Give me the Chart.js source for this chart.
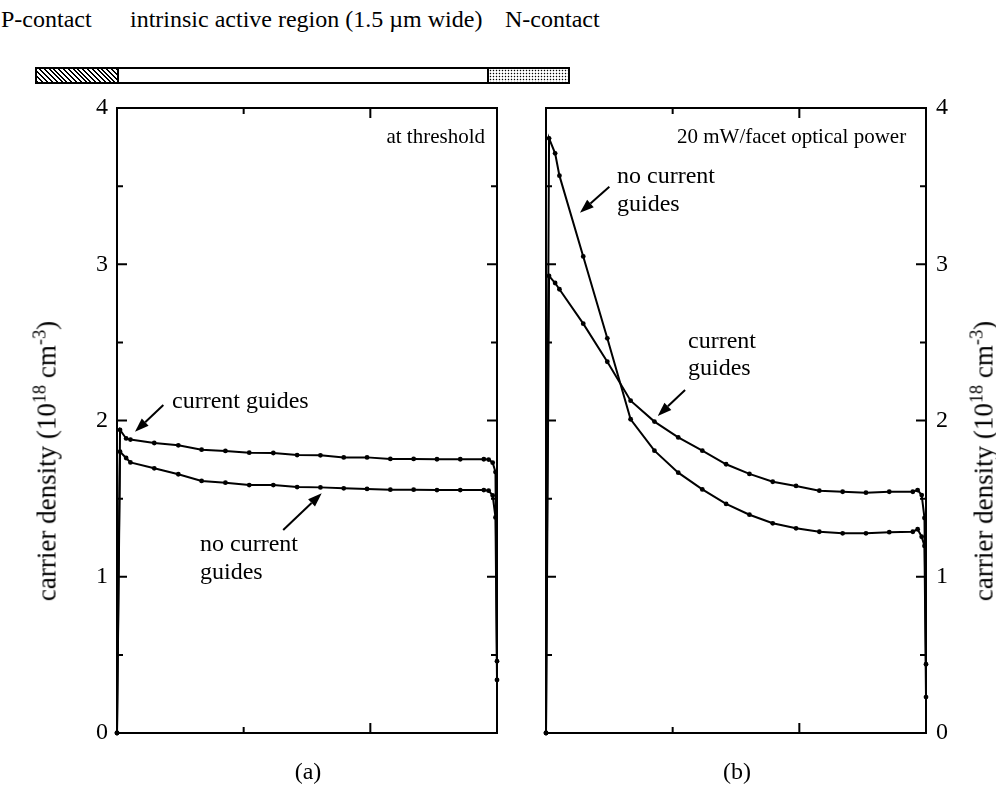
<!DOCTYPE html>
<html><head><meta charset="utf-8">
<script src="https://cdn.jsdelivr.net/npm/chart.js@4.4.1/dist/chart.umd.min.js"></script>
<style>
html,body{margin:0;padding:0;background:#fff;}
body{width:996px;height:788px;position:relative;overflow:hidden;font-family:"Liberation Serif","Times New Roman",serif;color:#000;}
.t{position:absolute;white-space:nowrap;font-size:24px;line-height:24px;}
.s{font-size:21px;line-height:21px;}
.two{line-height:27.6px;}
.rot{font-size:27px;line-height:27px;transform:translate(-50%,-50%) rotate(-90deg);}
.cap{transform:translateX(-50%);}
sup{font-size:0.68em;line-height:0;vertical-align:0.55em;}
canvas{position:absolute;top:0;}
#bar{position:absolute;left:35px;top:67px;width:535px;height:17px;border:2px solid #000;box-sizing:border-box;display:flex;}
#bar .p{width:80px;background:repeating-linear-gradient(45deg,#000 0 1.4px,#fff 1.4px 3.4px);border-right:2px solid #000;}
#bar .i{flex:1;}
#bar .n{width:79px;border-left:2px solid #000;background:radial-gradient(circle,#000 0.75px,transparent 1.05px) 0 0/3px 3px;}
</style></head><body>

<div class="t" style="left:1px;top:7px;">P-contact</div>
<div class="t" style="left:130px;top:7px;">intrinsic active region (1.5 µm wide)</div>
<div class="t" style="left:505px;top:7px;">N-contact</div>
<div id="bar"><div class="p"></div><div class="i"></div><div class="n"></div></div>

<canvas id="ca" width="520" height="788" style="left:0;width:520px;height:788px;"></canvas>
<canvas id="cb" width="476" height="788" style="left:520px;width:476px;height:788px;"></canvas>

<div class="t s" style="right:511px;top:126px;">at threshold</div>
<div class="t s" style="left:677px;top:126px;">20 mW/facet optical power</div>
<div class="t" style="left:172px;top:388px;">current guides</div>
<div class="t two" style="left:200px;top:530px;">no current<br>guides</div>
<div class="t two" style="left:617px;top:162px;">no current<br>guides</div>
<div class="t two" style="left:688px;top:326.5px;">current<br>guides</div>
<div class="t cap" style="left:308px;top:759px;">(a)</div>
<div class="t cap" style="left:737px;top:759px;">(b)</div>
<div class="t rot" style="left:47px;top:461px;">carrier density (10<sup>18</sup> cm<sup>-3</sup>)</div>
<div class="t rot" style="left:984px;top:461px;">carrier density (10<sup>18</sup> cm<sup>-3</sup>)</div>

<script>
// position across the device (µm)
const xGrid = [0, 0.012, 0.036, 0.053, 0.147, 0.242, 0.334, 0.428, 0.522, 0.617, 0.711, 0.803, 0.895, 0.987, 1.079, 1.171, 1.263, 1.355, 1.448, 1.467, 1.483, 1.494, 1.5];
// (a) at threshold, carrier density (1e18 cm^-3)
const thresholdGuides   = [0, 1.94, 1.885, 1.878, 1.856, 1.841, 1.813, 1.805, 1.794, 1.792, 1.779, 1.777, 1.764, 1.764, 1.754, 1.754, 1.752, 1.752, 1.752, 1.75, 1.73, 1.67, 0.46];
const thresholdNoGuides = [0, 1.80, 1.76, 1.732, 1.694, 1.656, 1.613, 1.602, 1.587, 1.587, 1.574, 1.572, 1.566, 1.562, 1.557, 1.557, 1.555, 1.555, 1.555, 1.551, 1.52, 1.38, 0.34];
// (b) 20 mW/facet optical power
const powerGuides   = [0, 2.925, 2.88, 2.84, 2.62, 2.376, 2.127, 1.993, 1.892, 1.807, 1.72, 1.658, 1.608, 1.581, 1.551, 1.544, 1.538, 1.544, 1.544, 1.555, 1.523, 1.376, 0.44];
const powerNoGuides = [0, 3.806, 3.71, 3.567, 3.05, 2.526, 2.008, 1.807, 1.666, 1.559, 1.466, 1.397, 1.342, 1.31, 1.288, 1.278, 1.278, 1.285, 1.288, 1.304, 1.256, 1.197, 0.23];
const yTickValues = [0, 1, 2, 3, 4];
const xTickValues = [0.5, 1.0];
// annotation arrows [x tail, y tail, x head, y head] in data units
const arrowsA = [[0.183, 2.099, 0.071, 1.928], [0.656, 1.299, 0.808, 1.534]];
const arrowsB = [[0.25, 3.496, 0.134, 3.33], [0.549, 2.195, 0.441, 2.029]];

const FONT = "'Liberation Serif','Times New Roman',serif";

function series(vals){ return xGrid.map((x,i)=>({x:x, y:vals[i]})); }
function ds(vals){
  return {data: series(vals), borderColor:'#000', borderWidth:2, pointRadius:2.4, pointBackgroundColor:'#000', pointBorderWidth:0, pointHoverRadius:2.4, tension:0, clip:false, fill:false};
}

const framePlugin = {
  id:'frame',
  afterDatasetsDraw(chart, args, opts){
    const {ctx, chartArea:a} = chart;
    const x = chart.scales.x, y = chart.scales.y;
    ctx.save();
    ctx.strokeStyle = '#000';
    ctx.lineWidth = 2;
    ctx.strokeRect(a.left, a.top, a.right - a.left, a.bottom - a.top);
    ctx.beginPath();
    for (let v = 0.5; v < 4; v += 0.5){
      const py = y.getPixelForValue(v);
      const L = yTickValues.includes(v) ? 10 : 6;
      ctx.moveTo(a.left, py); ctx.lineTo(a.left + L, py);
      ctx.moveTo(a.right, py); ctx.lineTo(a.right - L, py);
    }
    xTickValues.forEach(v => {
      const px = x.getPixelForValue(v);
      const L = Number.isInteger(v) ? 10 : 6;
      ctx.moveTo(px, a.top); ctx.lineTo(px, a.top + L);
      ctx.moveTo(px, a.bottom); ctx.lineTo(px, a.bottom - L);
    });
    ctx.stroke();
    // arrows
    (opts.arrows || []).forEach(ar => {
      const x1 = x.getPixelForValue(ar[0]), y1 = y.getPixelForValue(ar[1]);
      const x2 = x.getPixelForValue(ar[2]), y2 = y.getPixelForValue(ar[3]);
      const ang = Math.atan2(y2 - y1, x2 - x1);
      const hl = 14, hw = 5;
      const bx = x2 - hl * Math.cos(ang), by = y2 - hl * Math.sin(ang);
      ctx.beginPath();
      ctx.moveTo(x1, y1); ctx.lineTo(bx, by);
      ctx.lineWidth = 2; ctx.stroke();
      ctx.beginPath();
      ctx.moveTo(x2, y2);
      ctx.lineTo(bx + hw * Math.sin(ang), by - hw * Math.cos(ang));
      ctx.lineTo(bx - hw * Math.sin(ang), by + hw * Math.cos(ang));
      ctx.closePath();
      ctx.fillStyle = '#000'; ctx.fill();
    });
    ctx.restore();
  }
};

function makeChart(id, dataA, dataB, pos, padding, axisWidth, tickPad, arrows){
  return new Chart(document.getElementById(id), {
    type:'line',
    data:{datasets:[ds(dataA), ds(dataB)]},
    options:{
      responsive:false, devicePixelRatio:1, animation:false,
      layout:{padding:padding},
      plugins:{legend:{display:false}, tooltip:{enabled:false}, frame:{arrows:arrows}},
      events:[],
      scales:{
        x:{type:'linear', min:0, max:1.5, display:false},
        y:{type:'linear', min:0, max:4, position:pos,
           grid:{display:false, drawTicks:false, tickLength:0}, border:{display:false},
           afterBuildTicks: s => { s.ticks = yTickValues.map(v => ({value:v})); },
           afterFit: s => { s.width = axisWidth; },
           ticks:{font:{family:FONT, size:24}, color:'#000', padding:tickPad, callback:v => String(v)}}
      }
    },
    plugins:[framePlugin]
  });
}

makeChart('ca', thresholdGuides, thresholdNoGuides, 'left', {top:108, bottom:55, left:0, right:23}, 117, 9, arrowsA);
makeChart('cb', powerGuides, powerNoGuides, 'right', {top:108, bottom:55, left:26, right:0}, 70, 10, arrowsB);
</script>
</body></html>
